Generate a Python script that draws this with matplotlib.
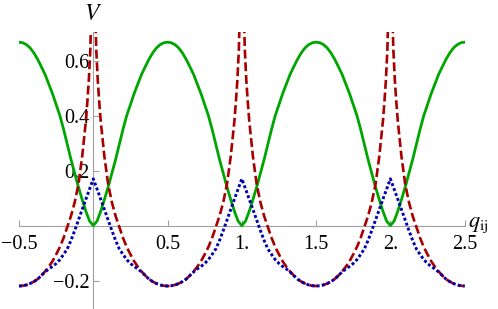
"""
Periodic pair potentials V(q_ij) - three curves over three periods
"""

import numpy as np
import matplotlib
matplotlib.use("Agg")
import matplotlib.pyplot as plt

plt.rcParams['font.family'] = 'serif'
plt.rcParams['font.serif'] = ['Liberation Serif', 'DejaVu Serif']
plt.rcParams['mathtext.fontset'] = 'stix'

# one period, offsets from the integer centre
q_period = np.linspace(-0.5, 0.5, 41)

green_period = [0.667, 0.665, 0.658, 0.646, 0.628, 0.605, 0.578, 0.550, 0.515, 0.480,
                0.440, 0.400, 0.350, 0.295, 0.240, 0.190, 0.140, 0.095, 0.052, 0.016,
                0.000,
                0.016, 0.052, 0.095, 0.140, 0.190, 0.240, 0.295, 0.350, 0.400, 0.440,
                0.480, 0.515, 0.550, 0.578, 0.605, 0.628, 0.646, 0.658, 0.665, 0.667]

blue_period = [-0.220, -0.219, -0.216, -0.211, -0.204, -0.195, -0.182, -0.169, -0.158, -0.149,
               -0.138, -0.124, -0.105, -0.085, -0.054, -0.018, 0.020, 0.058, 0.096, 0.133,
               0.170,
               0.133, 0.096, 0.058, 0.020, -0.018, -0.054, -0.085, -0.105, -0.124, -0.138,
               -0.149, -0.158, -0.169, -0.182, -0.195, -0.204, -0.211, -0.216, -0.219, -0.220]

# red diverges at the integers -> finer steps there, nan at the pole
red_q_period = [-0.5, -0.475, -0.45, -0.425, -0.4, -0.375, -0.35, -0.325, -0.3, -0.275,
                -0.25, -0.225, -0.2, -0.175, -0.15, -0.125, -0.1, -0.075, -0.05, -0.04,
                -0.03, -0.02, -0.01, 0.0, 0.01, 0.02, 0.03, 0.04, 0.05, 0.075,
                0.1, 0.125, 0.15, 0.175, 0.2, 0.225, 0.25, 0.275, 0.3, 0.325,
                0.35, 0.375, 0.4, 0.425, 0.45, 0.475, 0.5]
red_period = [-0.220, -0.219, -0.216, -0.211, -0.204, -0.195, -0.182, -0.167, -0.150, -0.130,
              -0.105, -0.078, -0.045, -0.005, 0.035, 0.085, 0.150, 0.250, 0.380, 0.450,
              0.530, 0.640, 0.860, np.nan, 0.860, 0.640, 0.530, 0.450, 0.380, 0.250,
              0.150, 0.085, 0.035, -0.005, -0.045, -0.078, -0.105, -0.130, -0.150, -0.167,
              -0.182, -0.195, -0.204, -0.211, -0.216, -0.219, -0.220]

centers = [0, 1, 2]

x_ticks = [-0.5, 0.5, 1.0, 1.5, 2.0, 2.5]
x_labels = ['\u22120.5', '0.5', '1.', '1.5', '2.', '2.5']
y_ticks = [-0.2, 0.2, 0.4, 0.6]
y_labels = ['\u22120.2', '0.2', '0.4', '0.6']

# build full curves from the periods
q_full = np.concatenate([q_period + c for c in centers])
green = np.concatenate([green_period for c in centers])
blue = np.concatenate([blue_period for c in centers])
red_q = np.concatenate([np.array(red_q_period) + c for c in centers])
red = np.concatenate([red_period for c in centers])

fig = plt.figure(figsize=(4.98, 3.09), dpi=100)
ax = fig.add_axes([0.0382, 0.0032, 0.8948, 0.8932])

ax.plot(q_full, green, color='#00a600', lw=2.0, zorder=3)
ax.plot(red_q, red, color='#a80000', lw=1.9, linestyle=(0, (3.4, 1.4)), zorder=3)
ax.plot(q_full, blue, color='#0000b0', lw=2.1, linestyle=(0, (1.0, 0.8)), zorder=3)

ax.set_xlim(-0.5, 2.5)
ax.set_ylim(-0.30, 0.704)

# Mathematica-style axes through the origin
for side in ['top', 'right']:
    ax.spines[side].set_visible(False)
ax.spines['left'].set_position(('data', 0))
ax.spines['bottom'].set_position(('data', 0))
for side in ['left', 'bottom']:
    ax.spines[side].set_color('#a0a0a0')
    ax.spines[side].set_linewidth(0.8)

ax.set_xticks(x_ticks)
ax.set_xticklabels(x_labels)
ax.set_yticks(y_ticks)
ax.set_yticklabels(y_labels)
ax.tick_params(axis='both', direction='in', length=4, width=0.8,
               color='#a0a0a0', labelsize=14.5)
ax.tick_params(axis='x', pad=6.5)
ax.tick_params(axis='y', pad=3)

ax.text(0, 0.748, '$V$', ha='center', va='baseline', fontsize=17, clip_on=False)
ax.text(2.52, -0.004, r'$q_{\mathrm{ij}}$', ha='left', va='baseline', fontsize=16,
        clip_on=False)

fig.savefig('out.png', dpi=100)
